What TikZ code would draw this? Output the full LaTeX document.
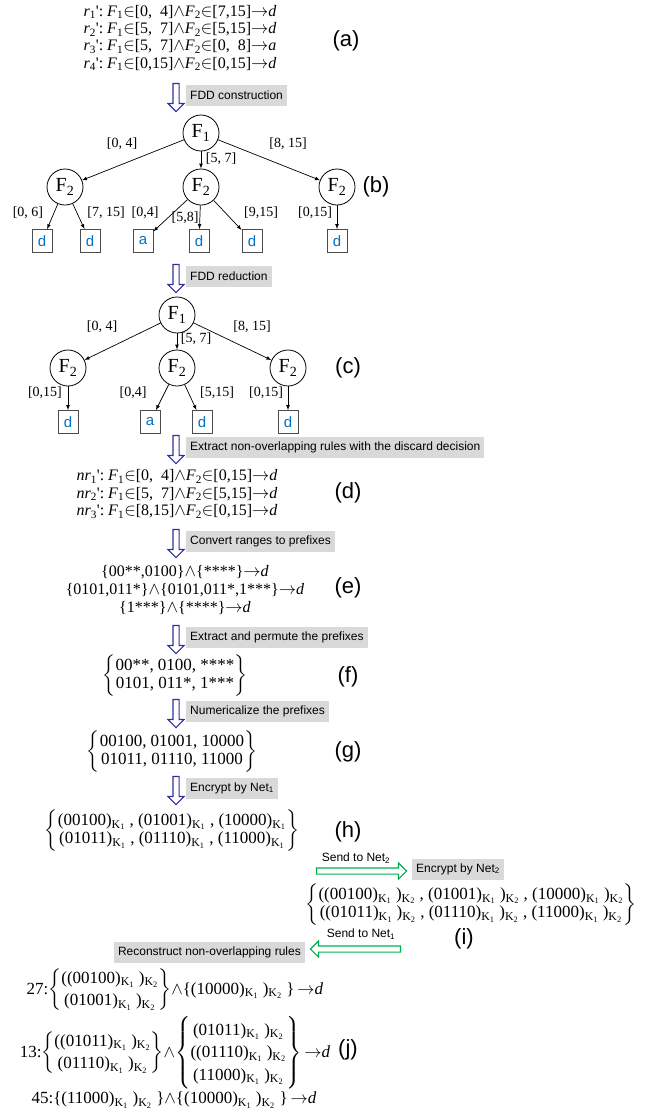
\documentclass[tikz,border=0pt]{standalone}
\usepackage{amsmath}
\usepackage{fontspec}
\setmainfont{Liberation Serif}
\setsansfont{Liberation Sans}
\usetikzlibrary{shapes.arrows,arrows.meta}
\tikzset{>=latex}
\definecolor{arrowblue}{RGB}{48,48,160}
\definecolor{leafblue}{RGB}{0,112,192}
\definecolor{boxgray}{RGB}{217,217,217}
\definecolor{sendgreen}{RGB}{0,176,80}
\tikzset{
  fnode/.style = {draw, line width=0.8pt, circle, minimum size=36pt, inner sep=0pt, font=\fontsize{20}{20}\selectfont},
  leaf/.style = {draw=black!70, line width=0.8pt, rectangle, minimum width=20pt, minimum height=23pt, inner sep=0pt, text=leafblue, font=\sffamily\fontsize{15}{15}\selectfont},
  link/.style = {->, line width=0.7pt},
  rangelbl/.style = {inner sep=0pt, font=\fontsize{14}{14}\selectfont},
  tag/.style = {inner sep=0pt, font=\sffamily\fontsize{22}{22}\selectfont},
  stepbox/.style = {fill=boxgray, anchor=west, inner sep=4pt, minimum height=21pt, font=\sffamily\fontsize{12}{12}\selectfont},
  sendlabel/.style = {inner sep=0pt, font=\sffamily\fontsize{12}{12}\selectfont},
  downarrow/.style = {single arrow, draw=arrowblue, line width=1.1pt, shape border rotate=270, minimum height=28pt, minimum width=16pt, inner sep=2.5pt, single arrow head extend=5pt},
  sendarrow/.style = {single arrow, draw=sendgreen, line width=1.1pt, minimum height=90pt, minimum width=16pt, inner sep=2.5pt, single arrow head extend=5pt},
  rules/.style = {inner sep=0pt, align=left, font=\fontsize{16}{17.3}\selectfont},
  sets/.style = {inner sep=0pt, align=center, font=\fontsize{16}{18}\selectfont},
  codes/.style = {inner sep=0pt, align=center, font=\fontsize{17}{18.5}\selectfont},
  enc/.style = {inner sep=0pt, align=center, font=\fontsize{17}{22.5}\selectfont}
}
\newcommand{\Fi}[1]{\textit{F}\textsubscript{#1}}
\newcommand{\pr}{\textquotesingle}
\newcommand{\kone}{\textsubscript{K\textsubscript{1}}}
\newcommand{\ktwo}{\textsubscript{K\textsubscript{2}}}
\newcommand{\braced}[1]{$\left\{\begin{tabular}{@{}c@{}}#1\end{tabular}\right\}$}

\begin{document}
\begin{tikzpicture}[x=1pt, y=-1pt]
  \useasboundingbox (0,0) rectangle (662,1114);
  % (a) rules
  \node[rules] (ra) at (180,38) {%
    \textit{r}\textsubscript{1}\pr:\ \Fi{1}$\in$[0,\ \ 4]$\wedge$\Fi{2}$\in$[7,15]$\rightarrow$\textit{d}\\
    \textit{r}\textsubscript{2}\pr:\ \Fi{1}$\in$[5,\ \ 7]$\wedge$\Fi{2}$\in$[5,15]$\rightarrow$\textit{d}\\
    \textit{r}\textsubscript{3}\pr:\ \Fi{1}$\in$[5,\ \ 7]$\wedge$\Fi{2}$\in$[0,\ \ 8]$\rightarrow$\textit{a}\\
    \textit{r}\textsubscript{4}\pr:\ \Fi{1}$\in$[0,15]$\wedge$\Fi{2}$\in$[0,15]$\rightarrow$\textit{d}};
  \node[tag] (ta) at (346,41) {(a)};
  \node[downarrow] (da1) at (176,96) {};
  \node[stepbox] (sa1) at (186,95) {FDD construction};
  % (b) FDD
  \node[fnode] (b1) at (201,133) {F\textsubscript{1}};
  \node[fnode] (b21) at (65,187) {F\textsubscript{2}};
  \node[fnode] (b22) at (201,187) {F\textsubscript{2}};
  \node[fnode] (b23) at (337,187) {F\textsubscript{2}};
  \foreach \n/\x/\t in {1/42/d, 2/90/d, 3/143/a, 4/199/d, 5/252/d, 6/337/d}
    \node[leaf] (bl\n) at (\x,241) {\t};
  \draw[link] (b1) -- (b21);
  \draw[link] (b1) -- (b22);
  \draw[link] (b1) -- (b23);
  \draw[link] (b21) -- (bl1);
  \draw[link] (b21) -- (bl2);
  \draw[link] (b22) -- (bl3);
  \draw[link] (b22) -- (bl4);
  \draw[link] (b22) -- (bl5);
  \draw[link] (b23) -- (bl6);
  \node[rangelbl] (bw1) at (122,144) {[0, 4]};
  \node[rangelbl] (bw2) at (221,159) {[5, 7]};
  \node[rangelbl] (bw3) at (288,144) {[8, 15]};
  \node[rangelbl] (bw4) at (28,213) {[0, 6]};
  \node[rangelbl] (bw5) at (106,213) {[7, 15]};
  \node[rangelbl] (bw6) at (145,213) {[0,4]};
  \node[rangelbl] (bw7) at (185,218) {[5,8]};
  \node[rangelbl] (bw8) at (261,213) {[9,15]};
  \node[rangelbl] (bw9) at (315,213) {[0,15]};
  \node[tag] (tb) at (376,187) {(b)};
  \node[downarrow] (da2) at (176,277) {};
  \node[stepbox] (sa2) at (186,276) {FDD reduction};
  % (c) reduced FDD
  \node[fnode] (c1) at (177,315) {F\textsubscript{1}};
  \node[fnode] (c21) at (68,368) {F\textsubscript{2}};
  \node[fnode] (c22) at (177,368) {F\textsubscript{2}};
  \node[fnode] (c23) at (288,368) {F\textsubscript{2}};
  \foreach \n/\x/\t in {1/68/d, 2/150/a, 3/202/d, 4/288/d}
    \node[leaf] (cl\n) at (\x,422) {\t};
  \draw[link] (c1) -- (c21);
  \draw[link] (c1) -- (c22);
  \draw[link] (c1) -- (c23);
  \draw[link] (c21) -- (cl1);
  \draw[link] (c22) -- (cl2);
  \draw[link] (c22) -- (cl3);
  \draw[link] (c23) -- (cl4);
  \node[rangelbl] (cw1) at (102,327) {[0, 4]};
  \node[rangelbl] (cw2) at (196,339) {[5, 7]};
  \node[rangelbl] (cw3) at (252,327) {[8, 15]};
  \node[rangelbl] (cw4) at (45,393) {[0,15]};
  \node[rangelbl] (cw5) at (133,393) {[0,4]};
  \node[rangelbl] (cw6) at (217,393) {[5,15]};
  \node[rangelbl] (cw7) at (266,393) {[0,15]};
  \node[tag] (tc) at (348,368) {(c)};
  \node[downarrow] (da3) at (176,448) {};
  \node[stepbox] (sa3) at (186,447) {Extract non-overlapping rules with the discard decision};
  % (d) non-overlapping rules
  \node[rules] (rd) at (177,494) {%
    \textit{nr}\textsubscript{1}\pr:\ \Fi{1}$\in$[0,\ \ 4]$\wedge$\Fi{2}$\in$[0,15]$\rightarrow$\textit{d}\\
    \textit{nr}\textsubscript{2}\pr:\ \Fi{1}$\in$[5,\ \ 7]$\wedge$\Fi{2}$\in$[5,15]$\rightarrow$\textit{d}\\
    \textit{nr}\textsubscript{3}\pr:\ \Fi{1}$\in$[8,15]$\wedge$\Fi{2}$\in$[0,15]$\rightarrow$\textit{d}};
  \node[tag] (td) at (348,493) {(d)};
  \node[downarrow] (da4) at (176,542) {};
  \node[stepbox] (sa4) at (186,541) {Convert ranges to prefixes};
  % (e) prefixes
  \node[sets] (re) at (185,590) {%
    \{00**,0100\}$\wedge$\{****\}$\rightarrow$\textit{d}\\
    \{0101,011*\}$\wedge$\{0101,011*,1***\}$\rightarrow$\textit{d}\\
    \{1***\}$\wedge$\{****\}$\rightarrow$\textit{d}};
  \node[tag] (te) at (348,588) {(e)};
  \node[downarrow] (da5) at (176,638) {};
  \node[stepbox] (sa5) at (186,637) {Extract and permute the prefixes};
  % (f)
  \node[codes] (rf) at (175,676) {\braced{00**, 0100, ****\\0101, 011*, 1***}};
  \node[tag] (tf) at (348,677) {(f)};
  \node[downarrow] (da6) at (176,712) {};
  \node[stepbox] (sa6) at (186,711) {Numericalize the prefixes};
  % (g)
  \node[codes] (rg) at (172,752) {\braced{00100, 01001, 10000\\01011, 01110, 11000}};
  \node[tag] (tg) at (348,752) {(g)};
  \node[downarrow] (da7) at (176,789) {};
  \node[stepbox] (sa7) at (186,788) {Encrypt by Net\textsubscript{1}};
  % (h)
  \node[codes] (rh) at (172,831) {\braced{(00100)\kone\ , (01001)\kone\ , (10000)\kone\\
    (01011)\kone\ , (01110)\kone\ , (11000)\kone}};
  \node[tag] (th) at (348,832) {(h)};
  \node[sendlabel] (sl2) at (356,858) {Send to Net\textsubscript{2}};
  \node[sendarrow] (ga2) at (360,871) {};
  \node[stepbox] (sa8) at (412,869) {Encrypt by Net\textsubscript{2}};
  % (i)
  \node[codes] (ri) at (471,905) {\braced{((00100)\kone\ )\ktwo\ , (01001)\kone\ )\ktwo\ , (10000)\kone\ )\ktwo\\
    ((01011)\kone\ )\ktwo\ , (01110)\kone\ )\ktwo\ , (11000)\kone\ )\ktwo}};
  \node[tag] (ti) at (464,939) {(i)};
  \node[sendlabel] (sl1) at (361,934) {Send to Net\textsubscript{1}};
  \node[sendarrow, shape border rotate=180] (ga1) at (357,949) {};
  \node[stepbox, anchor=east] (sa9) at (305,952) {Reconstruct non-overlapping rules};
  % (j) reconstructed rules
  \node[enc] (rj1) at (175,990) {27:\braced{((00100)\kone\ )\ktwo\\(01001)\kone\ )\ktwo}$\wedge$\{(10000)\kone\ )\ktwo\ \}\,$\rightarrow$\textit{d}};
  \node[enc] (rj2) at (175,1053) {13:\braced{((01011)\kone\ )\ktwo\\(01110)\kone\ )\ktwo}$\wedge$\braced{(01011)\kone\ )\ktwo\\((01110)\kone\ )\ktwo\\(11000)\kone\ )\ktwo}\,$\rightarrow$\textit{d}};
  \node[enc] (rj3) at (174,1100) {45:\{(11000)\kone\ )\ktwo\ \}$\wedge$\{(10000)\kone\ )\ktwo\ \}\,$\rightarrow$\textit{d}};
  \node[tag] (tj) at (348,1050) {(j)};
\end{tikzpicture}
\end{document}
